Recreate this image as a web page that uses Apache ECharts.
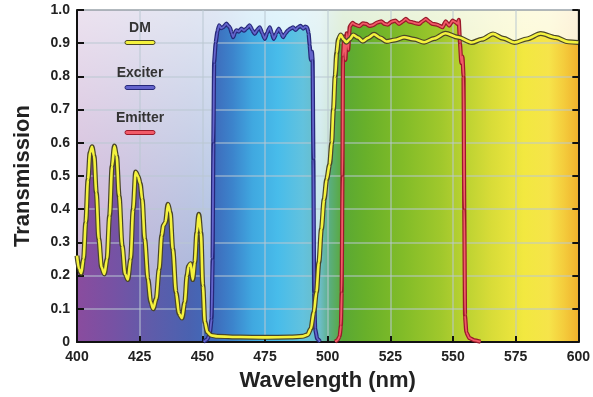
<!DOCTYPE html>
<html><head><meta charset="utf-8">
<script src="https://cdn.jsdelivr.net/npm/echarts@6/dist/echarts.min.js"></script>
<style>html,body{margin:0;padding:0;background:#fff}#c{width:593px;height:397px}</style>
</head><body><div id="c"></div><script>
// ---- data (wavelength nm, transmission) ----
const dmData = [[400,0.26],[400.8,0.22],[401.7,0.207],[402.6,0.25],[403.5,0.36],[404.4,0.49],[405.2,0.57],[406,0.588],[406.8,0.56],[407.7,0.45],[408.7,0.31],[409.8,0.225],[410.9,0.205],[412,0.25],[413,0.38],[414,0.53],[414.9,0.59],[415.8,0.56],[416.8,0.44],[418,0.29],[419.2,0.205],[420.3,0.188],[421.4,0.25],[422.4,0.4],[423.4,0.512],[424.3,0.5],[425.2,0.478],[426,0.43],[427,0.31],[428.3,0.19],[429.4,0.12],[430.4,0.1],[431.6,0.13],[432.8,0.22],[433.8,0.32],[434.5,0.352],[435.3,0.36],[436.3,0.415],[437.2,0.39],[438.2,0.28],[439.5,0.15],[440.7,0.085],[441.9,0.072],[443,0.12],[443.9,0.2],[444.5,0.228],[445.3,0.236],[446.2,0.188],[447,0.24],[447.8,0.33],[448.6,0.385],[449.4,0.33],[450.2,0.17],[451,0.06],[452,0.03],[453.5,0.02],[456,0.017],[465,0.015],[475,0.014],[485,0.015],[490,0.017],[492,0.022],[493.3,0.04],[494.5,0.09],[495.5,0.15],[496.5,0.24],[497.5,0.34],[498.6,0.43],[499.6,0.49],[500.8,0.535],[501.6,0.6],[502.3,0.7],[503,0.8],[503.6,0.87],[504.3,0.912],[505.2,0.925],[506.3,0.912],[507.5,0.903],[508.8,0.912],[510.2,0.925],[512.1,0.917],[514,0.906],[516.2,0.916],[518.5,0.927],[521,0.916],[523.5,0.905],[527,0.91],[530.5,0.918],[534.5,0.912],[538.5,0.903],[542.5,0.914],[547,0.93],[552,0.918],[557.5,0.902],[561.5,0.912],[566,0.928],[570,0.915],[574.5,0.902],[579.5,0.913],[585,0.929],[591,0.917],[596,0.904],[600,0.902]];

const exciterData = [[450.5,0.001],[452,0.008],[453,0.025],[453.7,0.07],[454.1,0.25],[454.4,0.6],[454.7,0.84],[455.3,0.9],[456,0.935],[456.7,0.954],[457.5,0.945],[458.3,0.948],[459.6,0.959],[460.3,0.952],[461,0.948],[461.7,0.93],[462.3,0.918],[463,0.932],[463.6,0.939],[464.6,0.935],[465.6,0.944],[466.6,0.938],[467.6,0.944],[468.9,0.954],[469.9,0.94],[470.9,0.928],[471.9,0.94],[472.9,0.948],[473.9,0.93],[474.9,0.913],[475.9,0.932],[476.9,0.948],[477.7,0.93],[478.5,0.913],[479.5,0.93],[480.5,0.944],[481.4,0.93],[482.2,0.918],[483.2,0.93],[484.2,0.939],[485.2,0.944],[486.2,0.948],[487.2,0.94],[488.2,0.948],[489.2,0.952],[490.2,0.944],[491,0.95],[491.8,0.948],[492.4,0.93],[492.8,0.895],[493.3,0.85],[493.7,0.875],[494,0.85],[494.3,0.55],[494.6,0.15],[495,0.04],[495.8,0.01],[497,0.001]];

const emitterData = [[503,0.001],[504,0.006],[504.8,0.018],[505.3,0.05],[505.6,0.15],[505.9,0.5],[506.1,0.86],[506.6,0.92],[507.1,0.85],[507.6,0.93],[508.2,0.88],[508.8,0.95],[509.9,0.961],[511.2,0.955],[512.7,0.951],[514,0.96],[515.4,0.958],[516.7,0.952],[518,0.954],[519.7,0.962],[521.4,0.966],[522.7,0.958],[524,0.956],[525.5,0.965],[527,0.968],[528.5,0.958],[530,0.966],[531.2,0.973],[532.5,0.965],[533.9,0.963],[535.2,0.96],[536.5,0.958],[537.8,0.966],[539.2,0.973],[540.5,0.965],[541.8,0.958],[543.2,0.957],[544.5,0.953],[545.8,0.948],[547.1,0.966],[548.5,0.953],[549.8,0.968],[551.1,0.963],[551.8,0.958],[552.3,0.97],[552.8,0.9],[553.3,0.84],[553.8,0.86],[554.2,0.8],[554.5,0.4],[554.8,0.08],[555.3,0.03],[556.5,0.012],[558.5,0.005],[561,0.001]];

const xTickValues = [400,425,450,475,500,525,550,575,600];
const yTickLabels = ['0','0.1','0.2','0.3','0.4','0.5','0.6','0.7','0.8','0.9','1.0'];
const legendNames = ['DM','Exciter','Emitter'];

// ---- style ----
const G = {left:77, right:14, top:10, bottom:54};
const W = 593, H = 397;
const PX0 = G.left, PX1 = W - G.right;
const FONT = '"Liberation Sans", Arial, Helvetica, sans-serif';
const spectrum = [[400,'#8a4c9e'],[415,'#7652a4'],[430,'#5e5caa'],[445,'#4a62b0'],[455,'#3e6cbc'],[462,'#3c84cc'],[470,'#40a8e0'],[480,'#48bcea'],[490,'#62c2de'],[497,'#6cbcc4'],[501,'#5aae7a'],[506,'#5aa834'],[515,'#68b02a'],[530,'#82bc28'],[545,'#a0c82c'],[555,'#bcd232'],[565,'#d8dc38'],[578,'#f2e840'],[588,'#f6e44a'],[594,'#f4cc3c'],[600,'#f0b02c']];
const stops = spectrum.map(([nm,c]) => ({offset:(nm-400)/200, color:c}));
const globalSpec = () => ({type:'linear', x:PX0, y:0, x2:PX1, y2:0, global:true, colorStops:stops});

const lineCol = {
  DM: {outer:'#4a4628', inner:'#f4f23e', ow:5, iw:2.6, smooth:0.3},
  Exciter: {outer:'#26287a', inner:'#6464cc', ow:4.2, iw:1.8, smooth:0.12},
  Emitter: {outer:'#9a1a2a', inner:'#f25a68', ow:4.2, iw:1.8, smooth:0.12}
};
const dataOf = {DM: dmData, Exciter: exciterData, Emitter: emitterData};

const series = [];
// fills
['DM','Exciter','Emitter'].forEach(n => {
  series.push({
    name: n + ' fill', type:'line', data:dataOf[n], showSymbol:false, silent:true, z:2,
    smooth: lineCol[n].smooth, smoothMonotone:'x',
    lineStyle:{width:0, opacity:0},
    areaStyle:{color: globalSpec(), opacity:1}
  });
});
// outlines then inner lines
['Exciter','Emitter','DM'].forEach((n,i) => {
  const c = lineCol[n];
  series.push({
    name: n, type:'line', data:dataOf[n], showSymbol:false, silent:true, z:4 + i*2,
    smooth: c.smooth, smoothMonotone:'x',
    lineStyle:{width:c.ow, color:c.outer}
  });
  series.push({
    name: n, type:'line', data:dataOf[n], showSymbol:false, silent:true, z:5 + i*2,
    smooth: c.smooth, smoothMonotone:'x',
    lineStyle:{width:c.iw, color:c.inner}
  });
});

const legendY = [28, 73, 118];
const legendGraphics = [];
legendNames.forEach((n,i) => {
  const c = lineCol[n];
  legendGraphics.push({type:'text', x:140, y:legendY[i], z:20,
    style:{text:n, font:'bold 14px ' + FONT, fill:'#333', align:'center', verticalAlign:'middle'}});
  legendGraphics.push({type:'rect', z:20, shape:{x:125, y:legendY[i]+12.5, width:30, height:4, r:2},
    style:{fill:c.inner, stroke:c.outer, lineWidth:1}});
});

const chart = echarts.init(document.getElementById('c'), null, {renderer:'canvas'});
chart.setOption({
  animation:false,
  backgroundColor:'#fff',
  grid:{left:G.left, right:G.right, top:G.top, bottom:G.bottom, show:true, borderColor:'#555', borderWidth:1, backgroundColor:'transparent'},
  graphic:[
    {type:'rect', z:-10, silent:true, shape:{x:PX0, y:G.top, width:PX1-PX0, height:H-G.top-G.bottom},
      style:{fill:new echarts.graphic.LinearGradient(0,0,1,0, stops)}},
    {type:'rect', z:-9, silent:true, shape:{x:PX0, y:G.top, width:PX1-PX0, height:H-G.top-G.bottom},
      style:{fill:new echarts.graphic.LinearGradient(0,0,0,1,[{offset:0,color:'rgba(255,255,255,0.84)'},{offset:1,color:'rgba(255,255,255,0.48)'}])}},
    ...legendGraphics
  ],
  xAxis:{type:'value', min:400, max:600, interval:25, z:3,
    name:'Wavelength (nm)', nameLocation:'middle', nameGap:28,
    nameTextStyle:{fontFamily:FONT, fontWeight:'bold', fontSize:22, color:'#222'},
    axisLine:{show:true, onZero:false, lineStyle:{color:'#111', width:2}},
    axisTick:{show:true, inside:true, length:6, lineStyle:{color:'#111', width:2}},
    axisLabel:{margin:8, fontFamily:FONT, fontWeight:'bold', fontSize:14, color:'#222',
      formatter:v => xTickValues.includes(v) ? String(v) : ''},
    splitLine:{show:true, lineStyle:{color:'rgba(185,200,210,0.5)', width:2}}
  },
  yAxis:[
    {type:'value', min:0, max:1, interval:0.1, z:3, position:'left',
      name:'Transmission', nameLocation:'middle', nameGap:43,
      nameTextStyle:{fontFamily:FONT, fontWeight:'bold', fontSize:22, color:'#222'},
      axisLine:{show:true, lineStyle:{color:'#111', width:2}},
      axisTick:{show:true, inside:true, length:7, lineStyle:{color:'#111', width:2}},
      axisLabel:{margin:7, fontFamily:FONT, fontWeight:'bold', fontSize:14, color:'#222',
        formatter:v => yTickLabels[Math.round(v*10)]},
      splitLine:{show:true, lineStyle:{color:'rgba(185,200,210,0.5)', width:2}}
    },
    {type:'value', min:0, max:1, interval:0.1, z:3, position:'right',
      axisLine:{show:true, lineStyle:{color:'#111', width:2}},
      axisTick:{show:true, inside:true, length:6, lineStyle:{color:'#111', width:2}},
      axisLabel:{show:false}, splitLine:{show:false}
    }
  ],
  series: series
});
</script></body></html>
